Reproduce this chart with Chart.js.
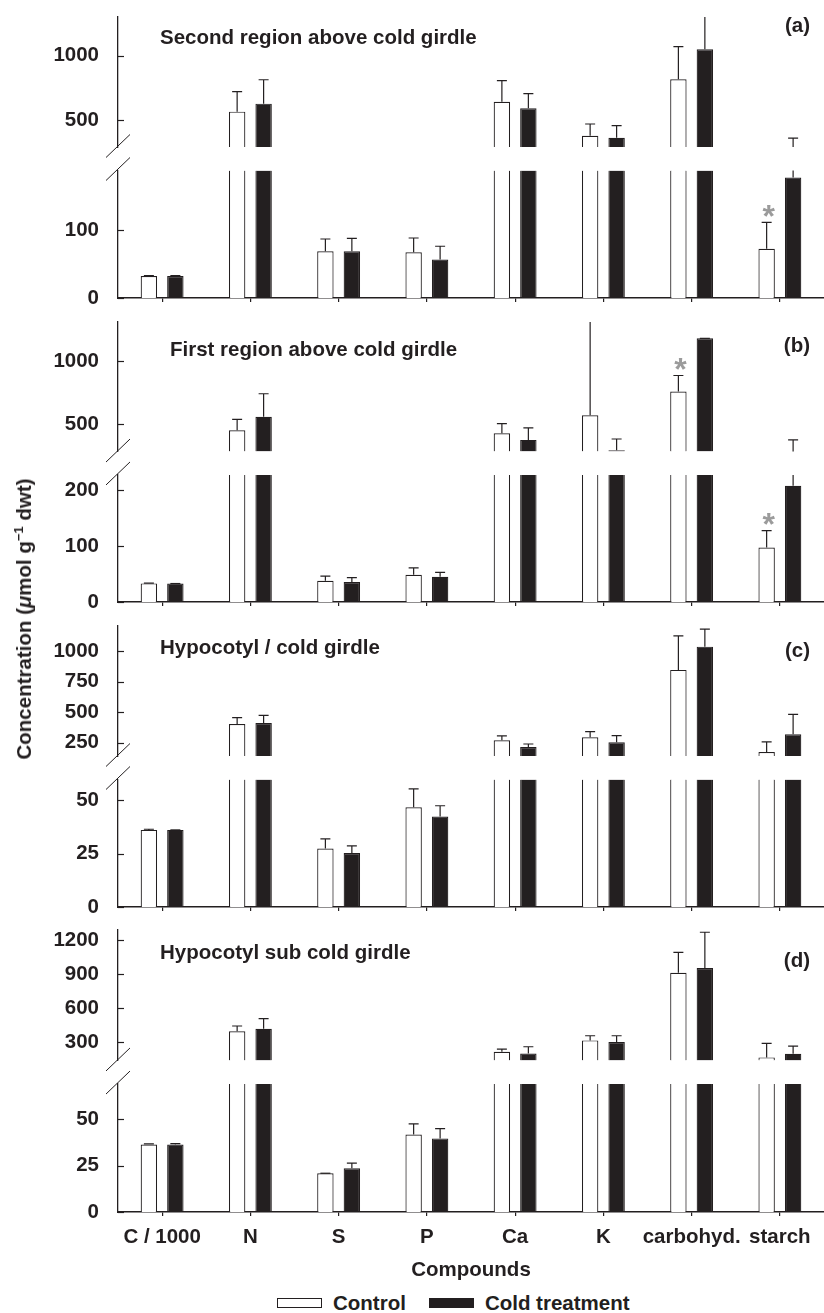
<!DOCTYPE html>
<html>
<head>
<meta charset="utf-8">
<title>Compounds above and below the cold girdle</title>
<script src="https://cdn.jsdelivr.net/npm/chart.js@4.4.1/dist/chart.umd.min.js"></script>
<style>
  html, body { margin: 0; padding: 0; background: #fff; }
  body { position: relative; width: 824px; height: 1313px; overflow: hidden;
         font-family: 'Liberation Sans', Arial, Helvetica, sans-serif; color: #231f20; }
  canvas { position: absolute; left: 0; }
  #yTitle { position: absolute; left: 24px; top: 619px; transform: translate(-50%, -50%) rotate(-90deg);
            white-space: nowrap; font-weight: bold; font-size: 20.5px; }
  #yTitle sup { font-size: 13px; line-height: 0; }
  #legend { position: absolute; left: 277px; top: 1292px; height: 22px; display: flex; align-items: center;
            font-weight: bold; font-size: 20.5px; }
  .swatch { width: 43px; height: 8px; border: 1px solid #231f20; margin-right: 11px; }
  .swatch.cold { background: #231f20; }
  .item { margin-right: 23px; }
</style>
</head>
<body>
<canvas id="panelA" width="824" height="310" style="top:0px"></canvas>
<canvas id="panelB" width="824" height="305" style="top:310px"></canvas>
<canvas id="panelC" width="824" height="305" style="top:615px"></canvas>
<canvas id="panelD" width="824" height="370" style="top:920px"></canvas>
<div id="yTitle">Concentration (<i>μ</i>mol g<sup>−1</sup> dwt)</div>
<div id="legend">
  <div class="swatch"></div><span class="item">Control</span>
  <div class="swatch cold"></div><span>Cold treatment</span>
</div>
<script>
const ink = '#231f20';
const starGrey = '#9b9b9b';
const fontFamily = "'Liberation Sans', Arial, Helvetica, sans-serif";

const compounds = ['C / 1000', 'N', 'S', 'P', 'Ca', 'K', 'carbohyd.', 'starch'];

// (a) second region above cold girdle
const controlA    = [32.5, 565, 69, 67.5, 642, 378, 816, 72.5];
const controlErrA = [0.5, 155, 18, 21, 164, 91, 254, 39];
const coldA       = [32.5, 627, 69, 56.7, 591, 362, 1050, 177.5];
const coldErrA    = [0.5, 186, 19, 19.6, 114, 94, 300, 182];
const starsA      = [false, false, false, false, false, false, false, true];
const lowTicksA   = [0, 100];
const highTicksA  = [500, 1000];

// (b) first region above cold girdle
const controlB    = [33.2, 453, 38, 48.8, 429, 571, 759, 97.5];
const controlErrB = [0.5, 86, 8.4, 12, 76, 800, 126, 30];
const coldB       = [33, 560, 35.7, 45.2, 377, 296, 1178, 207.7];
const coldErrB    = [0, 181, 8, 7.7, 94, 88, 0, 169];
const starsB      = [false, false, false, false, false, false, true, true];
const lowTicksB   = [0, 100, 200];
const highTicksB  = [500, 1000];

// (c) hypocotyl / cold girdle
const controlC    = [36.1, 403, 27.4, 46.7, 270, 294, 845, 174];
const controlErrC = [0.3, 51, 4.5, 8.6, 35, 46, 279, 82];
const coldC       = [36.1, 411, 25.3, 42.4, 215, 253, 1035, 319];
const coldErrC    = [0, 63, 3.3, 5, 24, 54, 144, 163];
const starsC      = [false, false, false, false, false, false, false, false];
const lowTicksC   = [0, 25, 50];
const highTicksC  = [250, 500, 750, 1000];

// (d) hypocotyl sub cold girdle
const controlD    = [36.4, 395, 20.9, 41.8, 215, 315, 911, 165];
const controlErrD = [0.3, 47, 0, 5.7, 23, 41, 180, 124];
const coldD       = [36.4, 418, 23.6, 39.7, 200, 300, 952, 197];
const coldErrD    = [0.5, 89, 2.8, 5.3, 59, 56, 316, 67];
const starsD      = [false, false, false, false, false, false, false, false];
const lowTicksD   = [0, 25, 50];
const highTicksD  = [300, 600, 900, 1200];

const font = { family: fontFamily, size: 20.5, weight: 'bold' };

// draws error bars, asterisks, inward y ticks, axis break marks and panel labels
function panelDecor(p) {
  return {
    id: 'panelDecor',
    afterDatasetsDraw(chart) {
      const { ctx, chartArea: area, scales } = chart;
      const low = scales.yLow, high = scales.yHigh;
      const series = [
        { values: p.control, errors: p.controlErr, stars: p.stars },
        { values: p.cold, errors: p.coldErr, stars: null }
      ];
      ctx.save();
      ctx.beginPath();
      ctx.rect(area.left, area.top, area.width, area.height);
      ctx.clip();
      ctx.strokeStyle = ink;
      ctx.lineWidth = 1.2;
      series.forEach((s, k) => {
        const meta = chart.getDatasetMeta(k);
        s.values.forEach((v, i) => {
          const x = meta.data[i].x;
          const top = v + s.errors[i];
          ctx.beginPath();
          if (v < low.max) {
            ctx.moveTo(x, low.getPixelForValue(v));
            ctx.lineTo(x, low.getPixelForValue(Math.min(top, low.max)));
          }
          if (top > high.min) {
            ctx.moveTo(x, high.getPixelForValue(Math.max(v, high.min)));
            ctx.lineTo(x, high.getPixelForValue(top));
          }
          let capY = null;
          if (top <= low.max) capY = low.getPixelForValue(top);
          else if (top >= high.min && top <= high.max) capY = high.getPixelForValue(top);
          if (capY !== null) {
            ctx.moveTo(x - 5, capY);
            ctx.lineTo(x + 5, capY);
          }
          ctx.stroke();
          if (s.stars && s.stars[i] && capY !== null) {
            ctx.fillStyle = starGrey;
            ctx.font = 'bold 32px ' + fontFamily;
            ctx.textAlign = 'center';
            ctx.textBaseline = 'alphabetic';
            ctx.fillText('*', x + 2, capY - 13.5 + 18);
          }
        });
      });
      ctx.restore();
    },
    afterDraw(chart) {
      const { ctx, chartArea: area, scales } = chart;
      const low = scales.yLow, high = scales.yHigh, gap = scales.yGap;
      ctx.save();
      ctx.strokeStyle = ink;
      ctx.lineWidth = 1.2;
      [low, high].forEach(s => s.ticks.forEach(t => {
        const y = Math.round(s.getPixelForValue(t.value)) + 0.5;
        ctx.beginPath();
        ctx.moveTo(area.left, y);
        ctx.lineTo(area.left + 6, y);
        ctx.stroke();
      }));
      ctx.lineWidth = 1;
      [gap.top - 1, gap.bottom - 1.5].forEach(y => {
        ctx.beginPath();
        ctx.moveTo(area.left - 12, y + 11.5);
        ctx.lineTo(area.left + 12, y - 11.5);
        ctx.stroke();
      });
      ctx.fillStyle = ink;
      ctx.font = 'bold 20.5px ' + fontFamily;
      ctx.textBaseline = 'alphabetic';
      ctx.textAlign = 'left';
      ctx.fillText(p.title, area.left + p.titleDx, area.top + p.titleDy);
      ctx.textAlign = 'right';
      ctx.fillText(p.letter, 810, area.top + p.letterDy);
      ctx.restore();
    }
  };
}

// keep the y scales from reserving room for half tick labels
function fixYAxis(s) {
  s.width = 118;
  s.paddingTop = 0;
  s.paddingBottom = 0;
}

function buildPanel(canvasId, p) {
  const lowPart = vals => vals.map(v => Math.min(v, p.lowMax));
  const highPart = vals => vals.map(v => (v > p.highMin ? v : null));
  // broken bars lose their top edge in the lower segment
  const lowBorder = c => (c.raw !== undefined && c.raw >= p.lowMax)
    ? { left: 1.2, right: 1.2, top: 0, bottom: 0 } : 1.2;
  const common = { categoryPercentage: 0.6, barPercentage: 0.62, borderColor: ink };

  new Chart(document.getElementById(canvasId), {
    type: 'bar',
    data: {
      labels: compounds,
      datasets: [
        { ...common, label: 'Control', stack: 'control', yAxisID: 'yLow', data: lowPart(p.control),
          backgroundColor: '#ffffff', borderWidth: lowBorder },
        { ...common, label: 'Cold treatment', stack: 'cold', yAxisID: 'yLow', data: lowPart(p.cold),
          backgroundColor: ink, borderWidth: lowBorder },
        { ...common, label: 'Control', stack: 'control', yAxisID: 'yHigh', data: highPart(p.control),
          base: p.highMin, backgroundColor: '#ffffff', borderWidth: 1.2 },
        { ...common, label: 'Cold treatment', stack: 'cold', yAxisID: 'yHigh', data: highPart(p.cold),
          base: p.highMin, backgroundColor: ink, borderWidth: 1.2 }
      ]
    },
    options: {
      responsive: false,
      animation: false,
      events: [],
      layout: { padding: { top: p.padTop, left: 0, right: 0, bottom: 0 } },
      plugins: { legend: { display: false }, tooltip: { enabled: false } },
      scales: {
        x: {
          type: 'category',
          offset: true,
          grid: { display: true, drawOnChartArea: false, drawTicks: true, tickLength: 4, offset: false,
                  color: ink, lineWidth: 1.2 },
          border: { display: true, color: ink, width: 1.5 },
          ticks: { display: p.last, color: ink, padding: 9, font: font, maxRotation: 0, autoSkip: false },
          title: { display: p.last, text: 'Compounds', color: ink, font: font, padding: { top: 0, bottom: 7 } },
          afterFit: s => { s.height = p.xHeight; s.paddingLeft = 0; s.paddingRight = 0; }
        },
        yLow: {
          type: 'linear', position: 'left', stack: 'conc', stackWeight: 127.5, weight: 1,
          min: 0, max: p.lowMax,
          afterBuildTicks: s => { s.ticks = p.lowTicks.map(v => ({ value: v })); },
          grid: { display: false },
          border: { display: true, color: ink, width: 1.3 },
          ticks: { color: ink, padding: 11, font: font, autoSkip: false, callback: v => String(v) },
          afterFit: fixYAxis
        },
        yGap: {
          type: 'linear', position: 'left', stack: 'conc', stackWeight: 23.5, weight: 2,
          display: false, min: 0, max: 1,
          afterFit: fixYAxis
        },
        yHigh: {
          type: 'linear', position: 'left', stack: 'conc', stackWeight: 130, weight: 3,
          min: p.highMin, max: p.highMax,
          afterBuildTicks: s => { s.ticks = p.highTicks.map(v => ({ value: v })); },
          grid: { display: false },
          border: { display: true, color: ink, width: 1.3 },
          ticks: { color: ink, padding: 11, font: font, autoSkip: false, callback: v => String(v) },
          afterFit: fixYAxis
        }
      }
    },
    plugins: [panelDecor(p)]
  });
}

buildPanel('panelA', {
  title: 'Second region above cold girdle', letter: '(a)',
  control: controlA, controlErr: controlErrA, cold: coldA, coldErr: coldErrA, stars: starsA,
  lowTicks: lowTicksA, highTicks: highTicksA, lowMax: 188, highMin: 290, highMax: 1301,
  padTop: 17, xHeight: 12, titleDx: 42, titleDy: 27.3, letterDy: 14.5, last: false
});
buildPanel('panelB', {
  title: 'First region above cold girdle', letter: '(b)',
  control: controlB, controlErr: controlErrB, cold: coldB, coldErr: coldErrB, stars: starsB,
  lowTicks: lowTicksB, highTicks: highTicksB, lowMax: 227, highMin: 285, highMax: 1307,
  padTop: 12, xHeight: 13, titleDx: 52, titleDy: 33.7, letterDy: 30, last: false
});
buildPanel('panelC', {
  title: 'Hypocotyl / cold girdle', letter: '(c)',
  control: controlC, controlErr: controlErrC, cold: coldC, coldErr: coldErrC, stars: starsC,
  lowTicks: lowTicksC, highTicks: highTicksC, lowMax: 59.7, highMin: 141, highMax: 1204,
  padTop: 11, xHeight: 13, titleDx: 42, titleDy: 28, letterDy: 30.5, last: false
});
buildPanel('panelD', {
  title: 'Hypocotyl sub cold girdle', letter: '(d)',
  control: controlD, controlErr: controlErrD, cold: coldD, coldErr: coldErrD, stars: starsD,
  lowTicks: lowTicksD, highTicks: highTicksD, lowMax: 69, highMin: 138, highMax: 1288,
  padTop: 10, xHeight: 78, titleDx: 42, titleDy: 28.7, letterDy: 37, last: true
});
</script>
</body>
</html>
